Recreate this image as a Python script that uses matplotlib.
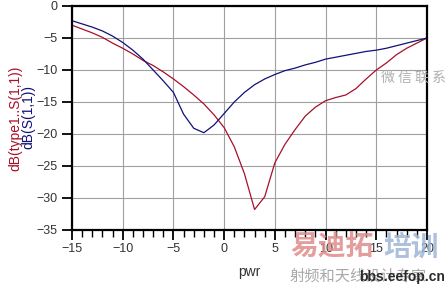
import matplotlib
matplotlib.use('Agg')
import matplotlib.pyplot as plt
import numpy as np

# pwr sweep, dB values
pwr = list(range(-15, 21))
s11_type1 = [-3.0, -3.6, -4.2, -4.9, -5.8, -6.6, -7.5, -8.5, -9.3, -10.3,
             -11.4, -12.6, -13.9, -15.3, -17.0, -19.0, -22.0, -26.2, -31.8, -29.8,
             -24.5, -21.6, -19.3, -17.2, -15.8, -14.8, -14.3, -13.9, -12.9, -11.4,
             -10.0, -8.9, -7.6, -6.6, -5.8, -5.0]
s11 = [-2.3, -2.8, -3.3, -3.9, -4.7, -5.7, -6.9, -8.3, -10.0, -11.7,
       -13.5, -16.9, -19.1, -19.8, -18.6, -16.8, -15.0, -13.5, -12.3, -11.4,
       -10.7, -10.1, -9.7, -9.2, -8.8, -8.3, -8.0, -7.7, -7.4, -7.1,
       -6.9, -6.6, -6.2, -5.8, -5.4, -5.0]
xticks = [-15, -10, -5, 0, 5, 10, 15, 20]
yticks = [0, -5, -10, -15, -20, -25, -30, -35]

red = '#a8102a'
blue = '#10107a'

plt.rcParams['font.family'] = ['Liberation Sans', 'DejaVu Sans']
fig = plt.figure(figsize=(4.48, 2.90), dpi=100)
ax = fig.add_axes([72/448., 1-230/290., 355/448., 224/290.])

ax.plot(pwr, s11_type1, color=red, lw=0.9)
ax.plot(pwr, s11, color=blue, lw=0.9)

ax.set_xlim(-15, 20)
ax.set_ylim(-35, 0)
ax.set_xticks(xticks)
ax.set_yticks(yticks)
ax.set_xticks(range(-15, 21), minor=True)
ax.grid(True, color='#a0a0a0', lw=0.8)
for s in ax.spines.values():
    s.set_linewidth(1.6)
ax.tick_params(axis='both', which='major', length=7, width=1.3, labelsize=9, colors='black', labelcolor='#333333')
ax.tick_params(axis='x', which='minor', length=5, width=1.0)
ax.tick_params(axis='x', pad=2)

ax.set_xlabel('pwr', fontsize=10, color='#333333')
ax.xaxis.set_label_coords(0.5, -0.155)
fig.text(15/448., 1-118/290., 'dB(type1..S(1,1))', rotation=90, color=red,
         fontsize=10, ha='center', va='center')
fig.text(28/448., 1-117/290., 'dB(S(1,1))', rotation=90, color=blue,
         fontsize=10, ha='center', va='center')

# watermark
cjk = ['Noto Sans CJK SC', 'DejaVu Sans']
fig.text(290/448., 1-248/290., '易迪拓', color='#e08c8c', fontsize=20,
         fontweight='bold', family=cjk, va='center', ha='left', alpha=0.85)
fig.text(383/448., 1-248/290., '培训', color='#9fb6d6', fontsize=20,
         fontweight='bold', family=cjk, va='center', ha='left', alpha=0.85)
fig.text(290/448., 1-276/290., '射频和天线设计专家', color='#a8a8a8', fontsize=11,
         family=cjk, va='center', ha='left')
fig.text(445/448., 1-277/290., 'bbs.eefop.cn', color='#2a2a2a', fontsize=10,
         fontweight='bold', va='center', ha='right')
fig.text(413/448., 1-78/290., '微 信 联 系', color='#b0b0b0', fontsize=10,
         family=cjk, va='center', ha='center')

plt.savefig('out.png', dpi=100)
